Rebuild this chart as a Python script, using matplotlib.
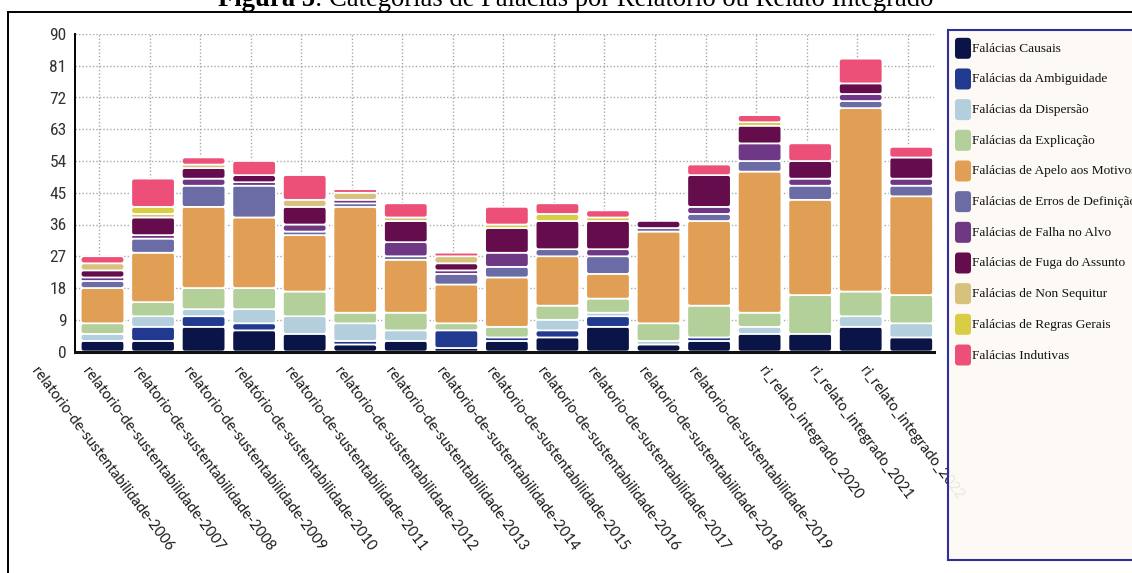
import matplotlib
matplotlib.use("Agg")
import matplotlib.pyplot as plt
import numpy as np
from matplotlib.patches import FancyBboxPatch
from matplotlib.lines import Line2D

W, H = 1132, 573

reports = [
    "relatorio-de-sustentabilidade-2006",
    "relatorio-de-sustentabilidade-2007",
    "relatorio-de-sustentabilidade-2008",
    "relatorio-de-sustentabilidade-2009",
    "relatório-de-sustentabilidade-2010",
    "relatorio-de-sustentabilidade-2011",
    "relatorio-de-sustentabilidade-2012",
    "relatorio-de-sustentabilidade-2013",
    "relatorio-de-sustentabilidade-2014",
    "relatorio-de-sustentabilidade-2015",
    "relatorio-de-sustentabilidade-2016",
    "relatorio-de-sustentabilidade-2017",
    "relatorio-de-sustentabilidade-2018",
    "relatorio-de-sustentabilidade-2019",
    "ri_relato_integrado_2020",
    "ri_relato_integrado_2021",
    "ri_relato_integrado_2022",
]

categories = [
    "Falácias Causais",
    "Falácias da Ambiguidade",
    "Falácias da Dispersão",
    "Falácias da Explicação",
    "Falácias de Apelo aos Motivos",
    "Falácias de Erros de Definição",
    "Falácias de Falha no Alvo",
    "Falácias de Fuga do Assunto",
    "Falácias de Non Sequitur",
    "Falácias de Regras Gerais",
    "Falácias Indutivas",
]

colors = ["#0b1446", "#213a8f", "#b3cfdd", "#b3cf9a", "#e09f55", "#6b6ca5",
          "#6e3885", "#640c4c", "#d6c27c", "#d8cd45", "#ec5078"]

causais      = [3, 3, 7, 6, 5, 2, 3, 1, 3, 4, 7, 2, 3, 5, 5, 7, 4]
ambiguidade  = [0, 4, 3, 2, 0, 1, 0, 5, 1, 2, 3, 0, 1, 0, 0, 0, 0]
dispersao    = [2, 3, 2, 4, 5, 5, 3, 0, 0, 3, 1, 1, 0, 2, 0, 3, 4]
explicacao   = [3, 4, 6, 6, 7, 3, 5, 2, 3, 4, 4, 5, 9, 4, 11, 7, 8]
apelo        = [10, 14, 23, 20, 16, 30, 15, 11, 14, 14, 7, 26, 24, 40, 27, 52, 28]
erros        = [2, 4, 6, 9, 1, 1, 1, 3, 3, 2, 5, 1, 2, 3, 4, 2, 3]
falha        = [1, 1, 2, 1, 2, 1, 4, 1, 4, 0, 2, 0, 2, 5, 2, 2, 2]
fuga         = [2, 5, 3, 2, 5, 0, 6, 2, 7, 8, 8, 2, 9, 5, 5, 3, 6]
non_sequitur = [2, 1, 1, 0, 2, 2, 1, 2, 0, 0, 0, 0, 0, 0, 0, 0, 0]
regras       = [0, 2, 0, 0, 0, 0, 0, 0, 1, 2, 1, 0, 0, 1, 0, 0, 0]
indutivas    = [2, 8, 2, 4, 7, 1, 4, 1, 5, 3, 2, 0, 3, 2, 5, 7, 3]

series = [causais, ambiguidade, dispersao, explicacao, apelo, erros,
          falha, fuga, non_sequitur, regras, indutivas]

yticks = [0, 9, 18, 27, 36, 45, 54, 63, 72, 81, 90]

fig = plt.figure(figsize=(W / 100, H / 100), dpi=100)
fig.patch.set_facecolor("white")

ax = fig.add_axes([75 / W, (H - 351.5) / H, (934 - 75) / W, (351.5 - 34) / H])
x = np.arange(len(reports))
ax.set_xlim(-0.544, 16.45)
ax.set_ylim(0, 90)

sx = ax.bbox.width / (16.45 + 0.544)
sy = ax.bbox.height / 90.0

bottom = np.zeros(len(reports))
for vals, col in zip(series, colors):
    vals = np.array(vals, dtype=float)
    cont = ax.bar(x, vals, width=0.86, bottom=bottom, color=col, zorder=3)
    for rect in cont:
        h = rect.get_height()
        rect.set_visible(False)
        if h <= 0:
            continue
        hp = h * sy
        r_px = max(0.3, min(3.2, hp / 2 - 0.4))
        p = FancyBboxPatch((rect.get_x(), rect.get_y()), rect.get_width(), h,
                           boxstyle=f"round,pad=0,rounding_size={r_px / sx}",
                           mutation_aspect=sx / sy,
                           fc=col, ec="white", lw=1.2, zorder=3)
        ax.add_patch(p)
    bottom += vals

# grid
ax.set_yticks(yticks)
ax.set_xticks(x)
ax.set_xticks(x - 0.07, minor=True)
ax.set_xticklabels(reports, rotation=-53, ha="center", va="top",
                   family=["Lato", "DejaVu Sans"], fontsize=10.5, color="#1a1a1a")
ax.tick_params(axis="x", which="both", length=0, pad=9)
ax.tick_params(axis="y", length=0, pad=6)
for lab in ax.get_yticklabels():
    lab.set_family(["Liberation Sans Narrow", "Roboto Condensed", "Liberation Sans"])
    lab.set_fontsize(12.5)
    lab.set_color("#333333")
ax.grid(axis="y", which="major", color="#a8a8a8", linestyle=(0, (1, 1.5)), lw=1, zorder=0)
ax.grid(axis="x", which="minor", color="#a8a8a8", linestyle=(0, (1, 1.5)), lw=1, zorder=0)
ax.grid(axis="x", which="major", visible=False)
for s in ["top", "right"]:
    ax.spines[s].set_visible(False)
ax.spines["left"].set_color("black")
ax.spines["left"].set_linewidth(1.4)
ax.spines["bottom"].set_color("#111111")
ax.spines["bottom"].set_linewidth(2.2)
ax.spines["left"].set_zorder(5)
ax.spines["bottom"].set_zorder(5)

# frame lines
fig.add_artist(Line2D([8 / W, 8 / W], [0, 1 - 12 / H], transform=fig.transFigure,
                      color="black", lw=1.4))
fig.add_artist(Line2D([8 / W, 1], [1 - 12 / H, 1 - 12 / H], transform=fig.transFigure,
                      color="black", lw=1.4))

# title
t1 = fig.text(218 / W, 1 - 6 / H, "Figura 5", family=["Liberation Serif", "DejaVu Serif"],
              fontweight="bold", fontsize=19.2, ha="left", va="baseline")
fig.canvas.draw()
bb = t1.get_window_extent(fig.canvas.get_renderer())
fig.text(bb.x1 / W, 1 - 6 / H, ": Categorias de Falácias por Relatório ou Relato Integrado",
         family=["Liberation Serif", "DejaVu Serif"], fontsize=19.2, ha="left", va="baseline")

# legend
lw_px, lh_px = 260, 530
lax = fig.add_axes([948 / W, (H - 560) / H, lw_px / W, lh_px / H])
lax.set_xlim(0, lw_px)
lax.set_ylim(lh_px, 0)
lax.set_xticks([])
lax.set_yticks([])
lax.patch.set_facecolor("#fdf9f4")
lax.patch.set_alpha(0.92)
for s in lax.spines.values():
    s.set_color("#2e2e9e")
    s.set_linewidth(1.5)
for i, (name, col) in enumerate(zip(categories, colors)):
    yc = 18.3 + i * 30.67
    lax.add_patch(FancyBboxPatch((7, yc - 10.5), 16, 21,
                                 boxstyle="round,pad=0,rounding_size=3.5",
                                 fc=col, ec="none"))
    lax.text(24.5, yc + 0.5, name, family=["Liberation Serif", "DejaVu Serif"],
             fontsize=9.6, va="center", ha="left", color="#111111")

fig.savefig("out.png", dpi=100)
